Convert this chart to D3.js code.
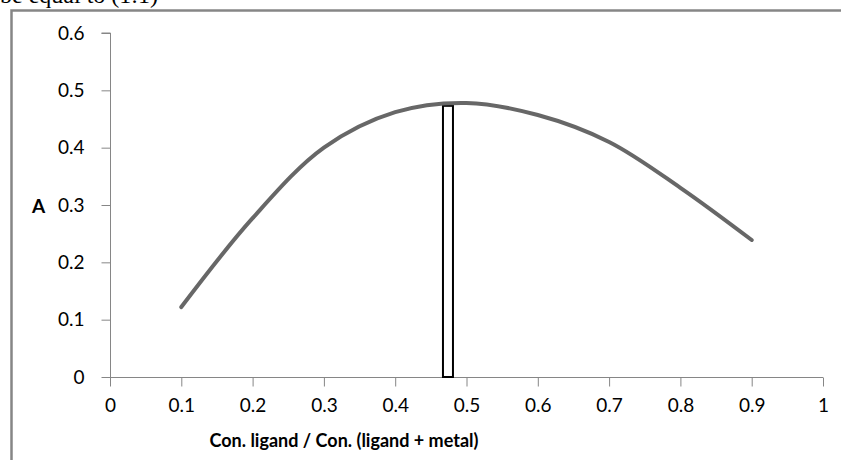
<!DOCTYPE html>
<html>
<head>
<meta charset="utf-8">
<script src="https://cdn.jsdelivr.net/npm/d3@7"></script>
<style>
  html, body { margin: 0; padding: 0; background: #fff; }
  svg { display: block; }
</style>
</head>
<body>
<svg id="chart" width="841" height="460"></svg>
<script>
// ---- data ----
const xValues = [0.1, 0.2, 0.3, 0.4, 0.5, 0.6, 0.7, 0.8, 0.9];
const absorbance = [0.122, 0.277, 0.40, 0.462, 0.478, 0.457, 0.41, 0.33, 0.239];
const barX = [0.474];
const barValue = [0.473];
const xTicks = [0, 0.1, 0.2, 0.3, 0.4, 0.5, 0.6, 0.7, 0.8, 0.9, 1];
const yTicks = [0, 0.1, 0.2, 0.3, 0.4, 0.5, 0.6];
const xTitle = "Con. ligand / Con. (ligand + metal)";
const yTitle = "A";
const topText = "be equal to (1:1)";

const svg = d3.select("#chart");
const axisColor = "#868686";
const font = "Lato, 'Open Sans', sans-serif";

// page fragment: cut-off text and gray frame
svg.append("text").attr("x", 0).attr("y", 3)
  .attr("font-family", "'Liberation Serif', serif").attr("font-size", 24)
  .attr("fill", "#000").text(topText);
svg.append("rect").attr("x", 11.5).attr("y", 10.5).attr("width", 900).attr("height", 500)
  .attr("fill", "none").attr("stroke", axisColor).attr("stroke-width", 2.5);

const x = d3.scaleLinear().domain([0, 1]).range([110, 823]);
const y = d3.scaleLinear().domain([0, 0.6]).range([377, 33]);

// axes
const yAxis = d3.axisLeft(y).tickValues(yTicks).tickSize(9).tickPadding(17)
  .tickFormat(d => d3.format("")(+d.toFixed(1)));
const xAxis = d3.axisBottom(x).tickValues(xTicks).tickSize(9).tickPadding(12)
  .tickFormat(d => d3.format("")(+d.toFixed(1)));

const gy = svg.append("g").attr("transform", "translate(110.5,0)").call(yAxis);
const gx = svg.append("g").attr("transform", "translate(0,377.5)").call(xAxis);
[gx, gy].forEach(g => {
  g.select(".domain").attr("stroke", axisColor).attr("stroke-width", 1);
  g.selectAll(".tick line").attr("stroke", axisColor).attr("stroke-width", 1);
  g.selectAll(".tick text").attr("fill", "#000").attr("font-family", font).attr("font-size", 19);
});
gy.select(".domain").attr("d", `M-9,${y(0.6)}H0V${y(0)}`);
gx.select(".domain").attr("d", `M${x(0)},0H${x(1)}`);

// bar (white with black outline)
svg.append("g").selectAll("rect").data(barX).join("rect")
  .attr("x", d => x(d) - 5)
  .attr("y", (d, i) => y(barValue[i]))
  .attr("width", 10)
  .attr("height", (d, i) => y(0) - y(barValue[i]))
  .attr("fill", "#fff").attr("stroke", "#000").attr("stroke-width", 2);

// curve
const line = d3.line().x(d => x(d[0])).y(d => y(d[1])).curve(d3.curveCatmullRom.alpha(0.5));
svg.append("path").datum(xValues.map((v, i) => [v, absorbance[i]]))
  .attr("d", line).attr("fill", "none").attr("stroke", "#5f5f5f")
  .attr("stroke-width", 4).attr("stroke-linecap", "round").attr("stroke-opacity", 0.95);

// titles
svg.append("text").attr("x", 344).attr("y", 447).attr("text-anchor", "middle")
  .attr("font-family", font).attr("font-weight", "bold").attr("font-size", 18)
  .attr("fill", "#000").text(xTitle);
svg.append("text").attr("x", 32).attr("y", 213)
  .attr("font-family", font).attr("font-weight", "bold").attr("font-size", 19)
  .attr("fill", "#000").text(yTitle);
</script>
</body>
</html>
